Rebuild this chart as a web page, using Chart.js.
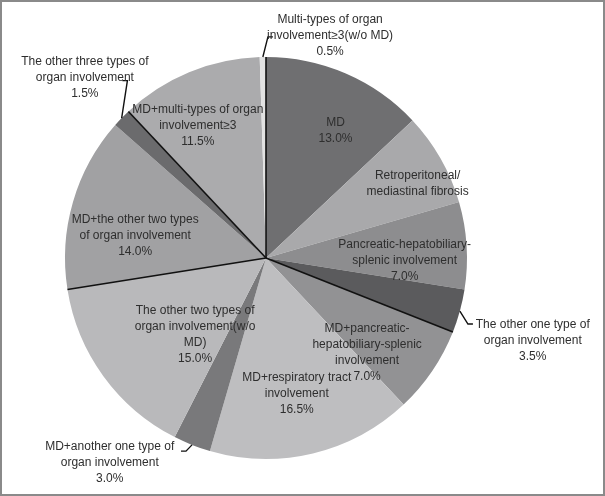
<!DOCTYPE html>
<html>
<head>
<meta charset="utf-8">
<script src="https://cdn.jsdelivr.net/npm/chart.js@4/dist/chart.umd.min.js"></script>
<style>
html,body{margin:0;padding:0;background:#fff;}
#wrap{position:relative;width:605px;height:496px;}
</style>
</head>
<body>
<div id="wrap"><canvas id="c" width="605" height="496"></canvas></div>
<script>
// ---- data ----
const categories = [
  "MD",
  "Retroperitoneal/mediastinal fibrosis",
  "Pancreatic-hepatobiliary-splenic involvement",
  "The other one type of organ involvement",
  "MD+pancreatic-hepatobiliary-splenic involvement",
  "MD+respiratory tract involvement",
  "MD+another one type of organ involvement",
  "The other two types of organ involvement(w/o MD)",
  "MD+the other two types of organ involvement",
  "The other three types of organ involvement",
  "MD+multi-types of organ involvement≥3",
  "Multi-types of organ involvement≥3(w/o MD)"
];
const shares = [13.0, 7.5, 7.0, 3.5, 7.0, 16.5, 3.0, 15.0, 14.0, 1.5, 11.5, 0.5];
const showPercent = [true, false, true, true, true, true, true, true, true, true, true, true];
const labelLines = [
  ["MD"],
  ["Retroperitoneal/", "mediastinal fibrosis"],
  ["Pancreatic-hepatobiliary-", "splenic involvement"],
  ["The other one type of", "organ involvement"],
  ["MD+pancreatic-", "hepatobiliary-splenic", "involvement"],
  ["MD+respiratory tract", "involvement"],
  ["MD+another one type of", "organ involvement"],
  ["The other two types of", "organ involvement(w/o", "MD)"],
  ["MD+the other two types", "of organ involvement"],
  ["The other three types of", "organ involvement"],
  ["MD+multi-types of organ", "involvement≥3"],
  ["Multi-types of organ", "involvement≥3(w/o MD)"]
];

// ---- style ----
const colors = ["#6f6f71","#a9a9ab","#8d8d8f","#5b5b5d","#929294","#bebec0",
                "#79797b","#b9b9bb","#a1a1a3","#6b6b6d","#ababad","#e2e2e2"];
// label placement (radius fraction, angle shift in degrees)
const labelPos = [
  {f:0.72,d:5.3},{f:0.84,d:3.6},{f:0.69,d:4.8},
  {f:1.39,d:2.0,out:true,ef:1.057,ed:2.8},
  {f:0.69,d:9.0},{f:0.69,d:0.7},
  {f:1.28,d:15.8,out:true,ef:1.04,ed:0.9},
  {f:0.52,d:-11.3},{f:0.66,d:-6.7},
  {f:1.27,d:0.7,out:true,ef:1.12,ed:7.9},
  {f:0.74,d:-4.8},
  {f:1.15,d:17,out:true,ef:1.10,ed:1.4}
];
const separatorAt = [0, 4, 8, 10];

const FONT = '12px "Liberation Sans", Arial, sans-serif';
const LH = 16;

const labelPlugin = {
  id: 'labels',
  afterDatasetsDraw(chart) {
    const ctx = chart.ctx;
    const arcs = chart.getDatasetMeta(0).data;
    ctx.save();
    // separator lines
    ctx.strokeStyle = '#111';
    ctx.lineWidth = 1.6;
    separatorAt.forEach(i => {
      const p = arcs[i].getProps(['x','y','startAngle','outerRadius'], true);
      ctx.beginPath();
      ctx.moveTo(p.x, p.y);
      ctx.lineTo(p.x + p.outerRadius*Math.cos(p.startAngle), p.y + p.outerRadius*Math.sin(p.startAngle));
      ctx.stroke();
    });
    ctx.font = FONT;
    ctx.fillStyle = '#2e2e2e';
    ctx.textAlign = 'center';
    ctx.textBaseline = 'middle';
    arcs.forEach((arc, i) => {
      const p = arc.getProps(['x','y','startAngle','endAngle','outerRadius'], true);
      const R = p.outerRadius;
      const mid = (p.startAngle + p.endAngle)/2;
      const lp = labelPos[i];
      const a = mid + lp.d*Math.PI/180;
      const tx = p.x + R*lp.f*Math.cos(a);
      const ty = p.y + R*lp.f*Math.sin(a);
      const lines = labelLines[i].slice();
      if (showPercent[i]) lines.push(shares[i].toFixed(1) + '%');
      if (lp.out) {
        const ea = mid + lp.ed*Math.PI/180;
        const sx = p.x + R*Math.cos(mid), sy = p.y + R*Math.sin(mid);
        const ex = p.x + R*lp.ef*Math.cos(ea), ey = p.y + R*lp.ef*Math.sin(ea);
        const dir = tx > ex ? 1 : -1;
        ctx.strokeStyle = '#111';
        ctx.lineWidth = 1.4;
        ctx.beginPath();
        ctx.moveTo(sx, sy);
        ctx.lineTo(ex, ey);
        ctx.lineTo(ex + dir*5, ey);
        ctx.stroke();
      }
      const top = ty - (lines.length-1)*LH/2;
      lines.forEach((t, k) => ctx.fillText(t, tx, top + k*LH));
    });
    // frame
    ctx.strokeStyle = '#8a8a8a';
    ctx.lineWidth = 2;
    ctx.strokeRect(1, 1, chart.width-2, chart.height-2);
    ctx.restore();
  }
};

new Chart(document.getElementById('c'), {
  type: 'pie',
  data: {
    labels: categories,
    datasets: [{
      data: shares,
      backgroundColor: colors,
      borderWidth: 0
    }]
  },
  options: {
    responsive: false,
    animation: false,
    layout: { padding: { left: 0, right: 73, top: 57, bottom: 37 } },
    plugins: { legend: { display: false }, tooltip: { enabled: false } }
  },
  plugins: [labelPlugin]
});
</script>
</body>
</html>
